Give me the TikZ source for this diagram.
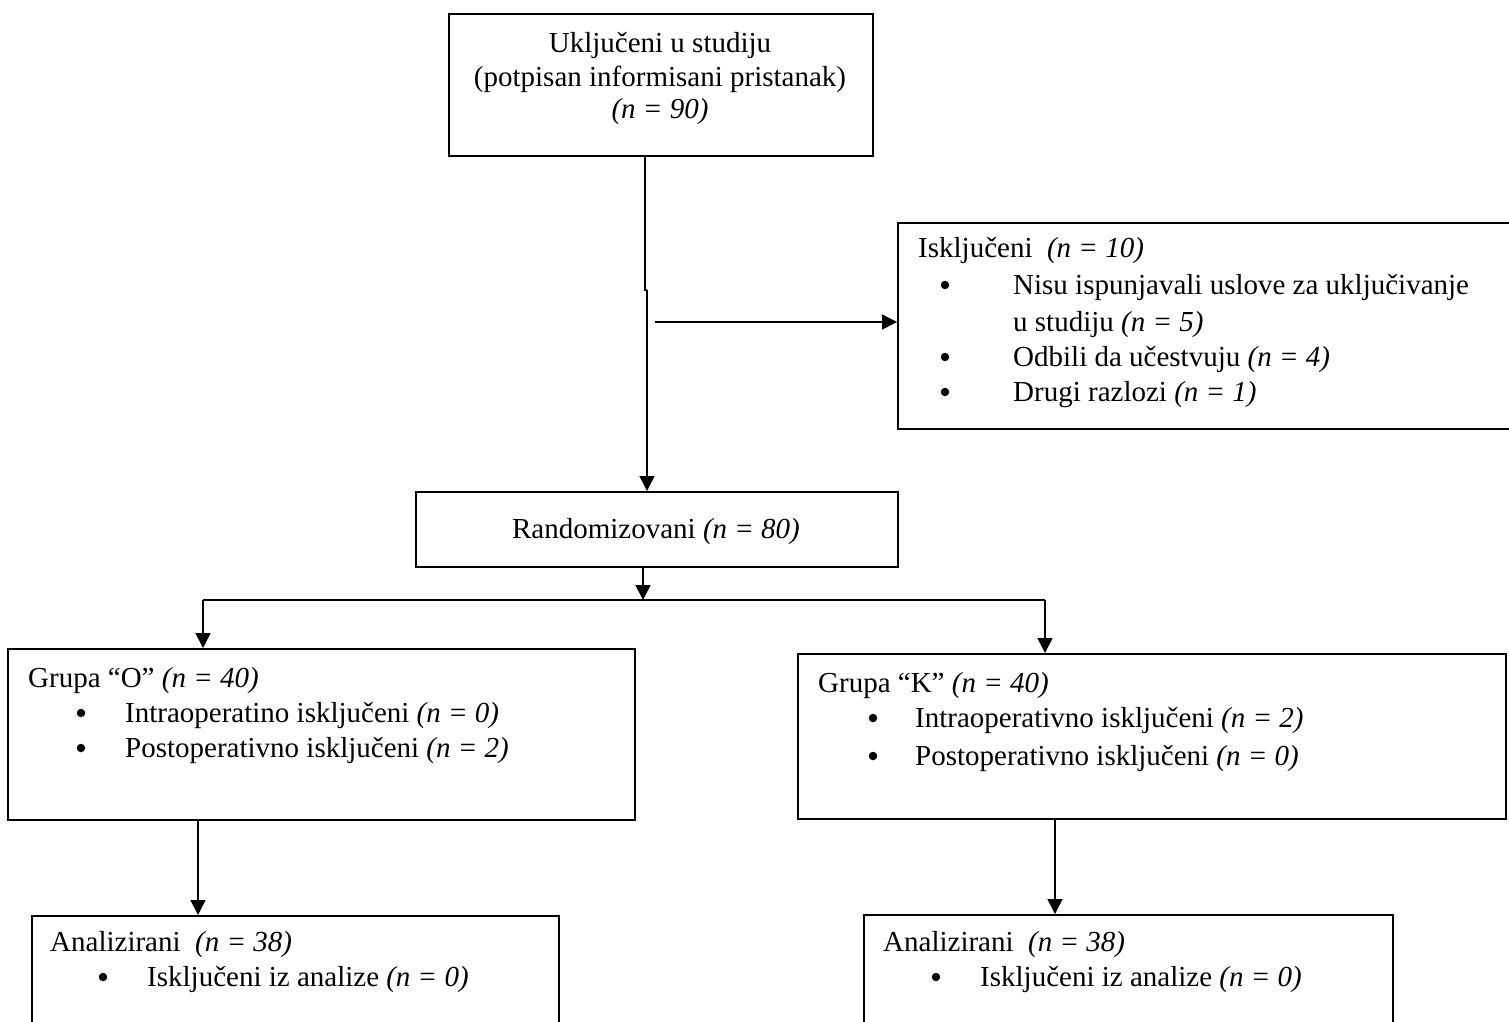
\documentclass[tikz,border=0pt]{standalone}
\usepackage{fontspec}
\setmainfont{Liberation Serif}
\usetikzlibrary{arrows.meta}
\begin{document}
\begin{tikzpicture}[x=1pt,y=-1pt,
  box/.style={draw, line width=1.5pt, rectangle, inner sep=0pt, anchor=north west},
  txt/.style={anchor=base west, inner sep=0pt, font=\fontsize{29}{34}\selectfont},
  ctxt/.style={anchor=base, inner sep=0pt, font=\fontsize{29}{34}\selectfont},
  dot/.style={circle, fill, inner sep=0pt, minimum size=8.5pt},
  conn/.style={line width=1.5pt},
  arr/.style={conn, -{Triangle[length=15pt,width=15pt]}}]
\useasboundingbox (0,0) rectangle (1509,1021);
\clip (0,0) rectangle (1509,1021);

% boxes
\node[box, minimum width=424pt, minimum height=142pt] (incl) at (448,13) {};
\node[box, minimum width=625pt, minimum height=206pt] (excl) at (897,222) {};
\node[box, minimum width=482pt, minimum height=75pt] (rand) at (415,491) {};
\node[box, minimum width=627pt, minimum height=171pt] (grpO) at (7,648) {};
\node[box, minimum width=708pt, minimum height=165pt] (grpK) at (797,653) {};
\node[box, minimum width=527pt, minimum height=160pt] (anaO) at (31,915) {};
\node[box, minimum width=529pt, minimum height=160pt] (anaK) at (863,914) {};

% texts
\node[ctxt] (t1) at (660,52) {Uključeni u studiju};
\node[ctxt] (t2) at (660,86) {(potpisan informisani pristanak)};
\node[ctxt] (t3) at (660,118) {\textit{(n = 90)}};

\node[txt] (e0) at (918,257) {Isključeni\ \ \textit{(n = 10)}};
\node[dot] (eb1) at (945,285) {};
\node[txt] (e1) at (1013,294) {Nisu ispunjavali uslove za uključivanje};
\node[txt] (e1b) at (1013,331) {u studiju \textit{(n = 5)}};
\node[dot] (eb2) at (945,357) {};
\node[txt] (e2) at (1013,366) {Odbili da učestvuju \textit{(n = 4)}};
\node[dot] (eb3) at (945,392) {};
\node[txt] (e3) at (1013,401) {Drugi razlozi \textit{(n = 1)}};

\node[ctxt] (r0) at (656,538) {Randomizovani \textit{(n = 80)}};

\node[txt] (o0) at (28,687) {Grupa “O” \textit{(n = 40)}};
\node[dot] (ob1) at (81,713) {};
\node[txt] (o1) at (125,722) {Intraoperatino isključeni \textit{(n = 0)}};
\node[dot] (ob2) at (81,748) {};
\node[txt] (o2) at (125,757) {Postoperativno isključeni \textit{(n = 2)}};

\node[txt] (k0) at (818,692) {Grupa “K” \textit{(n = 40)}};
\node[dot] (kb1) at (873,718) {};
\node[txt] (k1) at (915,727) {Intraoperativno isključeni \textit{(n = 2)}};
\node[dot] (kb2) at (873,756) {};
\node[txt] (k2) at (915,765) {Postoperativno isključeni \textit{(n = 0)}};

\node[txt] (a0) at (50,951) {Analizirani\ \ \textit{(n = 38)}};
\node[dot] (ab1) at (103,977) {};
\node[txt] (a1) at (147,986) {Isključeni iz analize \textit{(n = 0)}};

\node[txt] (c0) at (883,951) {Analizirani\ \ \textit{(n = 38)}};
\node[dot] (cb1) at (936,977) {};
\node[txt] (c1) at (980,986) {Isključeni iz analize \textit{(n = 0)}};

% connectors
\coordinate (j1) at (645,290);
\coordinate (j2) at (647,290);
\draw[conn] (incl.south -| j1) -- (j1) -- (j2);
\draw[arr] (j2) -- (j2 |- rand.north);
\coordinate (h0) at (655,322);
\draw[arr] (h0) -- (h0 -| excl.west);

\coordinate (split) at (643,600);
\coordinate (sl) at (203,600);
\coordinate (sr) at (1045,600);
\draw[arr] (rand.south -| split) -- (split);
\draw[conn] (sl) -- (sr);
\draw[arr] (sl) -- (sl |- grpO.north);
\draw[arr] (sr) -- (sr |- grpK.north);

\coordinate (ao) at (198,860);
\coordinate (ak) at (1055,860);
\draw[arr] (ao |- grpO.south) -- (ao |- anaO.north);
\draw[arr] (ak |- grpK.south) -- (ak |- anaK.north);
\end{tikzpicture}
\end{document}
